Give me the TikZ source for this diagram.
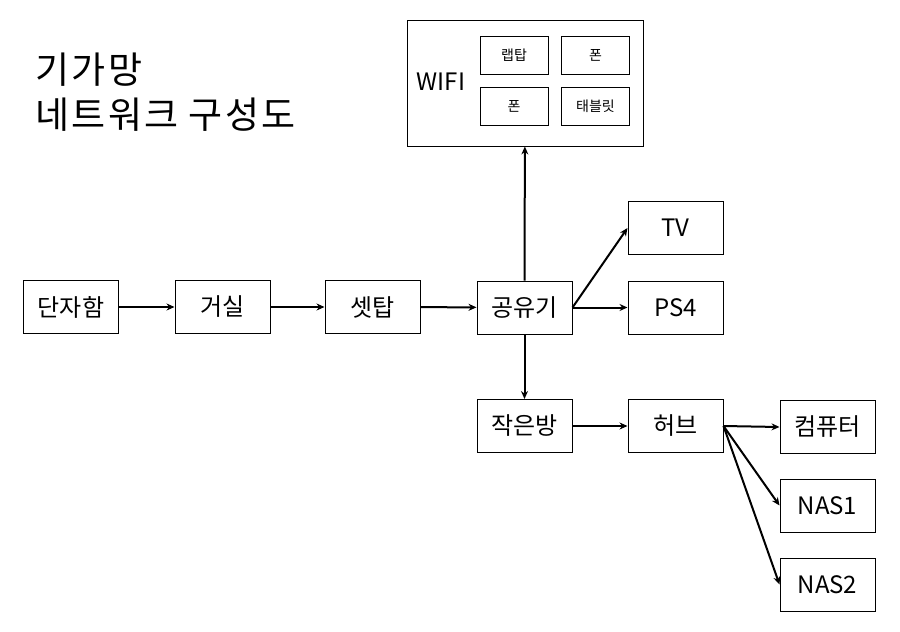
\documentclass[tikz,border=0pt]{standalone}
\usepackage{fontspec}
\setmainfont{Noto Sans CJK KR}
\newfontfamily\titlefont[LetterSpace=6]{Noto Sans CJK KR}
\usetikzlibrary{arrows.meta}

\tikzset{
  box/.style={draw, line width=1pt, minimum width=95pt, minimum height=53pt, inner sep=0pt, font=\fontsize{24}{26}\selectfont},
  smallbox/.style={draw, line width=1pt, minimum width=68pt, minimum height=38pt, inner sep=0pt, font=\fontsize{14}{16}\selectfont},
  link/.style={line width=2pt, black, -{Stealth[length=8pt,width=7pt]}}
}

\begin{document}
\begin{tikzpicture}[x=1pt, y=-1pt]
 			\useasboundingbox (0,0) rectangle (900,632);
 			
 			% title
 			\node[anchor=west, font=\titlefont\fontsize{37}{40}\selectfont] (title1) at (32,70) {기가망};
 			\node[anchor=west, font=\titlefont\fontsize{37}{40}\selectfont] (title2) at (32,115) {네트워크 구성도};
 			
 			% main chain
 			\node[box] (danja) at (71,307) {단자함};
 			\node[box] (geosil) at (222.5,307) {거실};
 			\node[box] (settop) at (372.5,307) {셋탑};
 			\node[box] (router) at (524.5,307.5) {공유기};
 			\node[box] (tv) at (675.5,228) {TV};
 			\node[box] (ps4) at (675.5,307.5) {PS4};
 			\node[box] (room) at (524.5,426) {작은방};
 			\node[box] (hub) at (675.5,426) {허브};
 			\node[box] (pc) at (827.5,427) {컴퓨터};
 			\node[box] (nas1) at (827.5,505.5) {NAS1};
 			\node[box] (nas2) at (827.5,584.5) {NAS2};
 			
 			% wifi group
 			\node[draw, line width=1pt, minimum width=236pt, minimum height=126pt, inner sep=0pt] (wifi) at (525,83) {};
 			\node[font=\fontsize{24}{26}\selectfont] (wifilabel) at (441,82) {WIFI};
 			\node[smallbox] (laptop) at (514,55) {랩탑};
 			\node[smallbox] (phone1) at (595.5,55) {폰};
 			\node[smallbox] (phone2) at (514,106) {폰};
 			\node[smallbox] (tablet) at (595.5,106) {태블릿};
 			
 			\draw[link] (danja) -- (geosil);
 			\draw[link] (geosil) -- (settop);
 			\draw[link] (settop) -- (router);
 			\draw[link] (router) -- (wifi);
 			\draw[link] (router.east) -- (tv.west);
 			\draw[link] (router) -- (ps4);
 			\draw[link] (router) -- (room);
 			\draw[link] (room) -- (hub);
 			\draw[link] (hub.east) -- (pc.west);
 			\draw[link] (hub.east) -- (nas1.west);
 			\draw[link] (hub.east) -- (nas2.west);
 			
\end{tikzpicture}
\end{document}
